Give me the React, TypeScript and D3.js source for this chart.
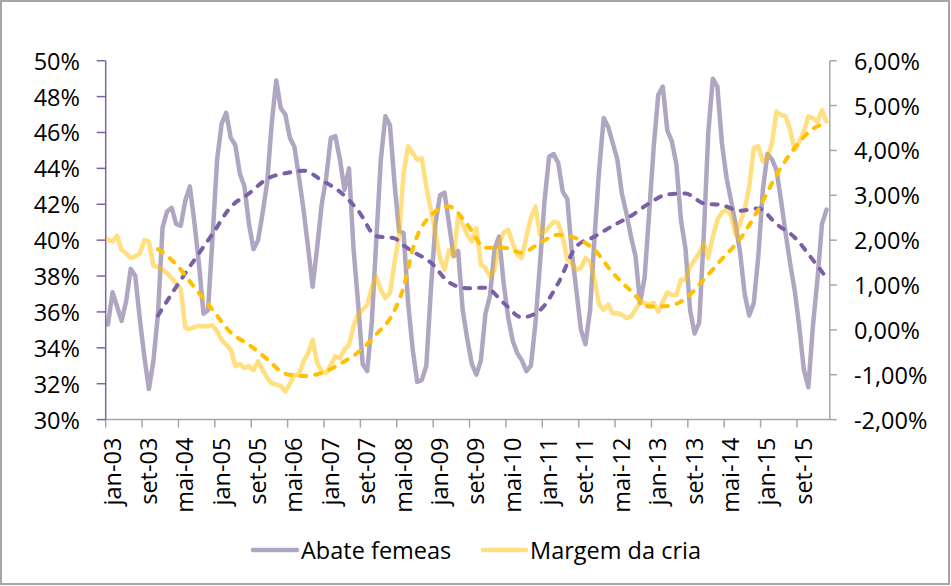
import React from "react";
import * as d3 from "d3";

const W = 951;
const H = 586;

const monthNames = ["jan", "fev", "mar", "abr", "mai", "jun", "jul", "ago", "set", "out", "nov", "dez"];
const startYear = 2003;
const nMonths = 159;

const xTickLabels = [
  "jan-03", "set-03", "mai-04", "jan-05", "set-05", "mai-06", "jan-07", "set-07", "mai-08", "jan-09",
  "set-09", "mai-10", "jan-11", "set-11", "mai-12", "jan-13", "set-13", "mai-14", "jan-15", "set-15",
];

const leftTicks = [30, 32, 34, 36, 38, 40, 42, 44, 46, 48, 50];
const rightTicks = [-2, -1, 0, 1, 2, 3, 4, 5, 6];

// Abate femeas (%), left axis, monthly from jan-03
const abateFemeas = [
  35.3, 37.1, 36.3, 35.5, 36.6, 38.4, 38.0, 35.6, 33.5, 31.7,
  33.3, 35.9, 40.7, 41.6, 41.8, 40.9, 40.8, 42.2, 43.0, 41.0,
  38.7, 35.9, 36.1, 40.2, 44.5, 46.5, 47.1, 45.7, 45.3, 43.7,
  43.0, 40.9, 39.5, 40.0, 41.5, 43.2, 46.5, 48.9, 47.35, 47.0,
  45.7, 45.2, 43.5, 41.7, 39.6, 37.4, 39.6, 42.0, 43.5, 45.7,
  45.8, 44.5, 42.8, 44.0, 39.5, 36.5, 33.1, 32.7, 35.4, 40.0,
  44.5, 46.9, 46.4, 43.2, 40.5, 40.4, 36.5, 33.9, 32.1, 32.2,
  33.0, 37.2, 40.9, 42.5, 42.65, 40.9, 39.1, 39.4, 36.1, 34.5,
  33.1, 32.5, 33.3, 35.9, 36.9, 39.5, 40.2, 37.6, 35.7, 34.4,
  33.7, 33.3, 32.7, 33.0, 35.4, 38.7, 42.2, 44.65, 44.8, 44.3,
  42.7, 42.3, 39.3, 37.2, 35.0, 34.2, 36.1, 40.2, 43.9, 46.8,
  46.3, 45.4, 44.5, 42.6, 41.5, 40.2, 39.1, 36.5, 37.9, 41.5,
  45.2, 48.1, 48.55, 46.1, 45.5, 44.2, 41.1, 39.5, 36.1, 34.8,
  35.4, 40.2, 46.0, 49.0, 48.55, 45.4, 43.5, 42.2, 40.9, 39.3,
  37.0, 35.8, 36.5, 39.1, 42.8, 44.8, 44.5, 43.9, 42.2, 40.4,
  38.7, 37.2, 35.2, 32.8, 31.8, 35.2, 37.8, 40.9, 41.7,
];

// Margem da cria (%), right axis, monthly from jan-03
const margemCria = [
  2.01, 1.97, 2.10, 1.78, 1.71, 1.60, 1.64, 1.70, 2.00, 1.97,
  1.43, 1.40, 1.34, 1.26, 1.15, 1.04, 0.91, 0.04, 0.02, 0.06,
  0.09, 0.08, 0.08, 0.10, -0.03, -0.23, -0.33, -0.44, -0.81, -0.76,
  -0.85, -0.81, -0.90, -0.70, -0.89, -1.07, -1.19, -1.22, -1.25, -1.37,
  -1.20, -1.00, -1.00, -0.70, -0.52, -0.22, -0.74, -0.93, -0.96, -0.78,
  -0.59, -0.63, -0.44, -0.33, 0.08, 0.34, 0.45, 0.56, 0.93, 1.19,
  0.89, 0.71, 0.82, 1.49, 2.10, 3.49, 4.09, 3.94, 3.79, 3.83,
  3.19, 2.67, 2.16, 1.60, 1.34, 1.78, 1.64, 2.53, 2.35, 2.12,
  1.97, 2.27, 1.45, 1.38, 1.19, 1.34, 1.93, 2.17, 2.23, 1.93,
  1.67, 1.60, 2.08, 2.49, 2.75, 2.12, 2.19, 2.30, 2.41, 2.38,
  2.08, 1.56, 1.49, 1.34, 1.38, 1.60, 1.52, 1.12, 0.56, 0.45,
  0.56, 0.37, 0.37, 0.34, 0.26, 0.30, 0.45, 0.62, 0.60, 0.56,
  0.60, 0.41, 0.63, 0.83, 0.78, 0.78, 1.12, 1.12, 1.41, 1.56,
  1.71, 1.93, 1.60, 2.08, 2.45, 2.62, 2.68, 2.56, 2.12, 2.38,
  2.68, 3.19, 4.05, 4.09, 3.75, 3.83, 4.16, 4.87, 4.79, 4.76,
  4.46, 4.01, 4.20, 4.42, 4.76, 4.72, 4.64, 4.90, 4.64,
];

// Dashed trend lines (12-month moving averages), read at these month indices
const trendMonths = [
  11, 15, 19, 23, 27, 31, 35, 39, 43, 47, 51, 55, 59, 63, 65, 67, 71, 75, 79, 83,
  87, 91, 95, 99, 103, 107, 111, 115, 119, 123, 127, 131, 135, 139, 143, 147, 151, 155, 158,
];
const trendAbate = [
  35.8, 37.4, 38.9, 40.35, 41.85, 42.6, 43.42, 43.73, 43.87, 43.33,
  42.7, 41.65, 40.22, 40.1, 39.7, 39.37, 38.75, 37.65, 37.32, 37.35,
  36.5, 35.7, 36.1, 37.6, 39.65, 40.2, 40.8, 41.35, 42.05, 42.55,
  42.6, 42.05, 41.95, 41.64, 41.77, 40.9, 40.15, 38.9, 37.9,
];
const trendMargem = [
  1.8, 1.46, 0.95, 0.45, -0.06, -0.33, -0.65, -0.98, -1.03, -0.96,
  -0.76, -0.5, -0.1, 0.43, 0.95, 1.8, 2.55, 2.75, 2.35, 1.83,
  1.83, 1.72, 1.94, 2.12, 2.04, 1.78, 1.27, 0.87, 0.52, 0.53,
  0.7, 1.12, 1.58, 2.03, 2.68, 3.45, 4.06, 4.48, 4.61,
];

const FONT = "'Open Sans', 'Noto Sans', sans-serif";
const FS = 23.5;

const monthLabel = (i: number) => {
  const y = startYear + Math.floor(i / 12);
  return `${monthNames[i % 12]}-${String(y % 100).padStart(2, "0")}`;
};

export default function App() {
  const left = 105.7;
  const right = 828.8;
  const top = 60.7;
  const bottom = 419.6;

  const months = d3.range(nMonths).map(monthLabel);
  const x = d3.scaleBand<string>().domain(months).range([left, right]).paddingInner(0).paddingOuter(0);
  const cx = (i: number) => (x(months[i]) as number) + x.bandwidth() / 2;
  const yL = d3.scaleLinear().domain([30, 50]).range([bottom, top]);
  const yR = d3.scaleLinear().domain([-2, 6]).range([bottom, top]);

  const lineAbate = d3.line<number>().x((_, i) => cx(i)).y((d) => yL(d));
  const lineMargem = d3.line<number>().x((_, i) => cx(i)).y((d) => yR(d));
  const trendLineA = d3
    .line<number>()
    .x((_, k) => cx(trendMonths[k]))
    .y((d) => yL(d))
    .curve(d3.curveMonotoneX);
  const trendLineM = d3
    .line<number>()
    .x((_, k) => cx(trendMonths[k]))
    .y((d) => yR(d))
    .curve(d3.curveMonotoneX);

  const fmtL = (v: number) => `${v}%`;
  const fmtR = (v: number) => `${v < 0 ? "-" : ""}${Math.abs(v).toFixed(2).replace(".", ",")}%`;

  const purpleAxis = "#7e62a3";
  const grayAxis = "#a6a6a6";

  return (
    <svg
      width={W}
      height={H}
      viewBox={`0 0 ${W} ${H}`}
      style={{ position: "absolute", left: 0, top: 0, background: "#fff" }}
      fontFamily={FONT}
    >
      <rect x={1} y={1} width={W - 3} height={H - 3} fill="#fff" stroke="#a6a6a6" strokeWidth={2} />

      {/* bottom axis */}
      <line x1={left} x2={right + 1} y1={bottom} y2={bottom} stroke={grayAxis} strokeWidth={1.5} />
      {xTickLabels.map((lab) => {
        const i = months.indexOf(lab);
        const tx = x(months[i]) as number;
        return (
          <g key={lab}>
            <line x1={tx} x2={tx} y1={bottom} y2={bottom + 8} stroke={grayAxis} strokeWidth={1.5} />
            <text
              transform={`translate(${tx + 5.8},${bottom + 18}) rotate(-90)`}
              textAnchor="end"
              dominantBaseline="central"
              fontSize={FS}
              fill="#000"
            >
              {lab}
            </text>
          </g>
        );
      })}

      {/* left axis */}
      <line x1={left} x2={left} y1={top} y2={bottom} stroke={purpleAxis} strokeWidth={1.5} />
      {leftTicks.map((t) => (
        <g key={`l${t}`}>
          <line x1={left - 9} x2={left} y1={yL(t)} y2={yL(t)} stroke={purpleAxis} strokeWidth={1.5} />
          <text x={80} y={yL(t)} textAnchor="end" dominantBaseline="central" fontSize={FS} fill="#000">
            {fmtL(t)}
          </text>
        </g>
      ))}

      {/* right axis */}
      <line x1={right + 1} x2={right + 1} y1={top} y2={bottom} stroke={grayAxis} strokeWidth={1.5} />
      {rightTicks.map((t) => (
        <g key={`r${t}`}>
          <line x1={right + 1} x2={right + 8} y1={yR(t)} y2={yR(t)} stroke={grayAxis} strokeWidth={1.5} />
          <text x={854} y={yR(t)} textAnchor="start" dominantBaseline="central" fontSize={FS} fill="#000">
            {fmtR(t)}
          </text>
        </g>
      ))}

      {/* series */}
      <path
        d={lineAbate(abateFemeas) || ""}
        fill="none"
        stroke="#7a6a9a"
        strokeOpacity={0.6}
        strokeWidth={4.5}
        strokeLinejoin="round"
        strokeLinecap="round"
      />
      <path
        d={lineMargem(margemCria) || ""}
        fill="none"
        stroke="#ffc000"
        strokeOpacity={0.5}
        strokeWidth={4.5}
        strokeLinejoin="round"
        strokeLinecap="round"
      />
      <path
        d={trendLineA(trendAbate) || ""}
        fill="none"
        stroke="#7b5fa6"
        strokeWidth={4}
        strokeDasharray="6 9"
        strokeLinecap="round"
      />
      <path
        d={trendLineM(trendMargem) || ""}
        fill="none"
        stroke="#ffc000"
        strokeWidth={4}
        strokeDasharray="6 9"
        strokeLinecap="round"
      />

      {/* legend */}
      <line x1={253} x2={297} y1={550} y2={550} stroke="#7a6a9a" strokeOpacity={0.6} strokeWidth={4.5} strokeLinecap="round" />
      <text x={301} y={550} dominantBaseline="central" fontSize={FS} fill="#000">
        Abate femeas
      </text>
      <line x1={483} x2={526} y1={550} y2={550} stroke="#ffc000" strokeOpacity={0.5} strokeWidth={4.5} strokeLinecap="round" />
      <text x={530} y={550} dominantBaseline="central" fontSize={FS} fill="#000">
        Margem da cria
      </text>
    </svg>
  );
}
